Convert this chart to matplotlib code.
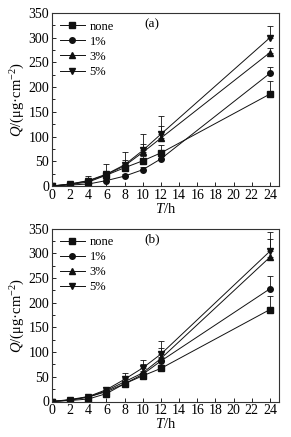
import matplotlib
matplotlib.use("Agg")
import matplotlib.pyplot as plt
from matplotlib.ticker import MultipleLocator

plt.rcParams['font.family'] = ['Liberation Serif', 'DejaVu Serif']
plt.rcParams['mathtext.fontset'] = 'custom'
plt.rcParams['mathtext.it'] = 'Liberation Serif:italic'
plt.rcParams['mathtext.rm'] = 'Liberation Serif'

t = [0, 2, 4, 6, 8, 10, 12, 24]
labels = ["none", "1%", "3%", "5%"]
markers = ["s", "o", "^", "v"]

# Panel (a)
a_none = [0, 3, 8, 22, 37, 51, 67, 186]
a_1 = [0, 2, 4, 11, 20, 33, 55, 228]
a_3 = [0, 4, 10, 23, 41, 68, 97, 270]
a_5 = [0, 4, 11, 24, 43, 72, 105, 300]
a_err_none = [0, 1, 3, 5, 8, 10, 15, 26]
a_err_1 = [0, 1, 2, 3, 4, 6, 8, 12]
a_err_3 = [0, 2, 5, 8, 12, 17, 24, 10]
a_err_5 = [0, 3, 9, 20, 26, 33, 37, 23]

# Panel (b)
b_none = [0, 2, 5, 16, 36, 52, 67, 186]
b_1 = [0, 3, 9, 20, 36, 55, 82, 228]
b_3 = [0, 3, 9, 22, 40, 58, 87, 292]
b_5 = [0, 4, 10, 24, 45, 68, 96, 304]
b_err_none = [0, 1, 2, 3, 4, 5, 6, 27]
b_err_1 = [0, 1, 2, 3, 5, 6, 8, 26]
b_err_3 = [0, 1, 2, 4, 8, 17, 21, 36]
b_err_5 = [0, 2, 3, 5, 12, 15, 26, 38]

panels = [
    ("(a)", [a_none, a_1, a_3, a_5], [a_err_none, a_err_1, a_err_3, a_err_5]),
    ("(b)", [b_none, b_1, b_3, b_5], [b_err_none, b_err_1, b_err_3, b_err_5]),
]

fig = plt.figure(figsize=(2.91, 4.37), dpi=100)
W, H = 291, 437
rects = [(52, 13, 279, 186), (52, 228.5, 279, 401.5)]
col = "#111111"

for (tag, series, errs), (x0, y0, x1, y1) in zip(panels, rects):
    ax = fig.add_axes([x0 / W, 1 - y1 / H, (x1 - x0) / W, (y1 - y0) / H])
    handles = []
    for ys, er, lab, mk in zip(series, errs, labels, markers):
        ax.errorbar(t, ys, yerr=[[0] * len(er), er], fmt='none', ecolor=col,
                    elinewidth=0.6, capsize=2, capthick=0.6)
        h, = ax.plot(t, ys, color=col, marker=mk, markersize=4,
                     linewidth=0.7, label=lab)
        handles.append(h)
    ax.set_xlim(0, 25)
    ax.set_ylim(0, 350)
    ax.yaxis.set_major_locator(MultipleLocator(50))
    ax.yaxis.set_minor_locator(MultipleLocator(25))
    ax.set_xticks(list(range(0, 25, 2)))
    ax.tick_params(which='both', direction='in', top=False, right=False,
                   labelsize=10, pad=2)
    ax.tick_params(which='major', length=3, width=0.6)
    ax.tick_params(which='minor', length=1.8, width=0.6)
    for s in ax.spines.values():
        s.set_linewidth(0.8)
        s.set_color("#333333")
    ax.set_xlabel(r"$T$/h", fontsize=10.5, labelpad=0)
    ax.set_ylabel(r"$Q$/(μg·cm$^{-2}$)", fontsize=10.5, labelpad=1)
    ax.text(0.44, 0.935, tag, transform=ax.transAxes, fontsize=9.5,
            ha='center', va='center')
    ax.legend(handles=handles, loc='upper left', frameon=False, fontsize=9,
              handlelength=2.0, handletextpad=0.4, labelspacing=0.25,
              borderaxespad=0.3, borderpad=0.3)

fig.savefig("out.png", dpi=100)
